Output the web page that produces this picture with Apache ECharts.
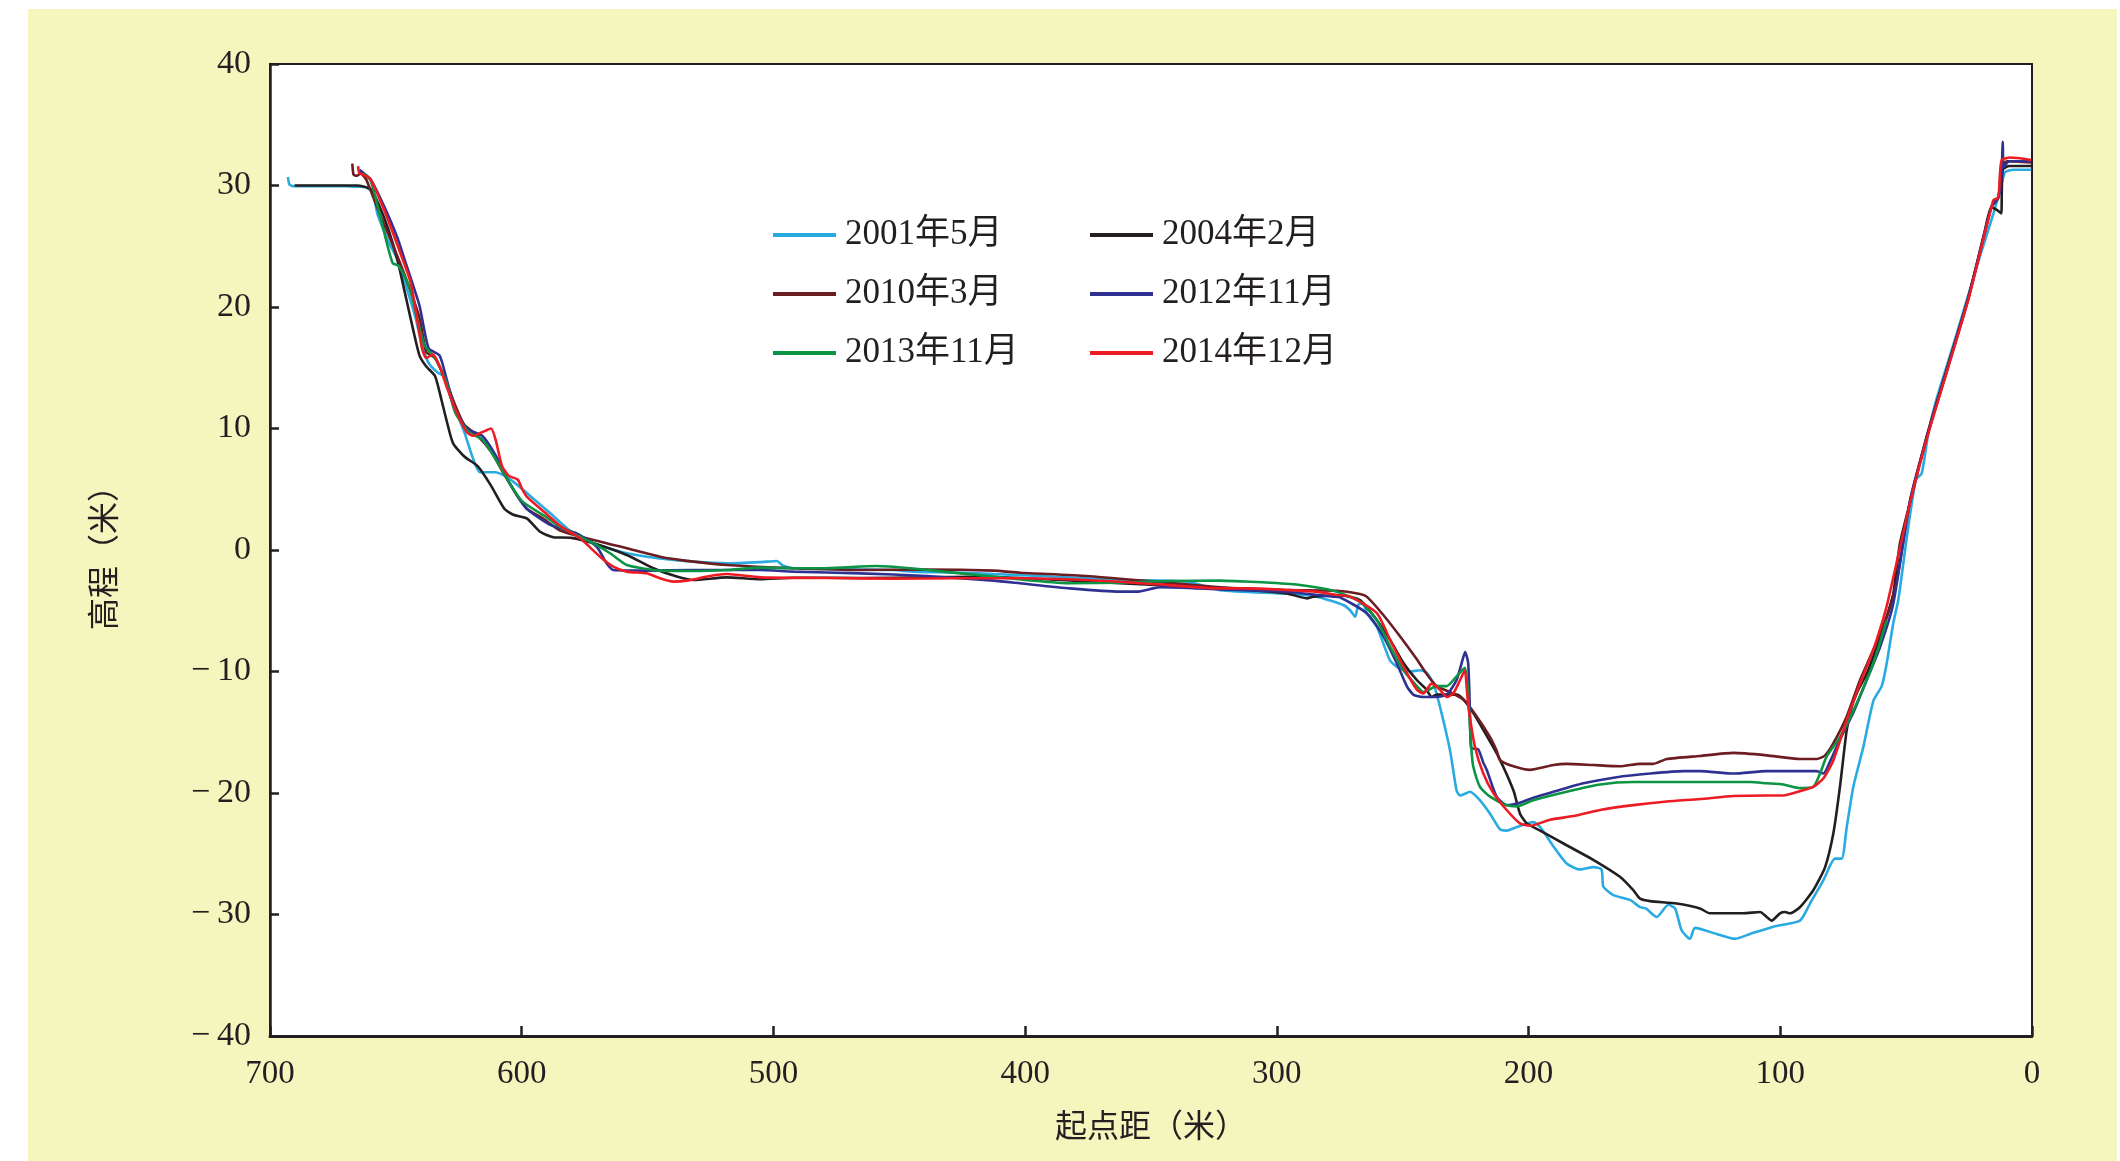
<!DOCTYPE html>
<html>
<head>
<meta charset="utf-8">
<script src="https://cdn.jsdelivr.net/npm/echarts@6.0.0/dist/echarts.min.js"></script>
<style>
  html, body { margin: 0; padding: 0; background: #fff; }
  #profileChart { width: 2120px; height: 1161px; }
</style>
</head>
<body>
<div id="profileChart"></div>
<script>
// 断面地形数据: [起点距, 高程]
var seriesNames = ['2001年5月', '2004年2月', '2010年3月', '2012年11月', '2013年11月', '2014年12月'];
var seriesColors = ['#29abe2', '#231f20', '#6b1d22', '#2e3192', '#0b9444', '#ed1c24'];
var xTicks = [700, 600, 500, 400, 300, 200, 100, 0];
var yTicks = [40, 30, 20, 10, 0, -10, -20, -30, -40];

var s2001 = [[692.9,30.7],[692.3,30.1],[691,29.95],[680,29.95],[670,29.95],[665,29.9],[661.8,29.85],[659.1,29.4],
  [657.4,27.7],[655.6,26.7],[653,25.4],[649.4,23.9],[645.9,21.7],[642.3,19.2],[639.6,16.9],[637,15.4],[633.4,14.6],
  [630.8,14.3],[628.1,12.5],[622.8,9.7],[619.3,7.5],[616.6,6.4],[610.4,6.4],[605.1,5.9],[598,4.7],[589.1,3.1],
  [580.3,1.5],[571.5,0.55],[558.3,-0.27],[545.1,-0.69],[531.8,-0.96],[518.6,-1.1],[505.3,-1.0],[498.7,-0.9],
  [496.1,-1.3],[492.1,-1.5],[478.9,-1.56],[465.6,-1.6],[452.4,-1.65],[444.4,-1.78],[425.9,-1.87],[412.6,-1.98],
  [394.1,-2.14],[362.3,-2.47],[335.8,-2.6],[322.6,-3.3],[296.1,-3.6],[284.2,-3.84],[273.6,-4.53],[271,-4.94],
  [268.9,-5.49],[267.6,-4.5],[265.6,-4.4],[264.3,-5.2],[260.3,-6.3],[257.7,-7.7],[255,-9.1],[251.7,-9.7],
  [247.1,-10.0],[243.1,-9.9],[240.5,-10.1],[237.8,-11.0],[235.2,-12.9],[231.2,-16.5],[228.6,-19.8],[227.2,-20.2],
  [224.6,-20.0],[223.3,-19.9],[219.3,-20.6],[215.3,-21.7],[211.3,-23.0],[208.7,-23.1],[204.7,-22.8],[198.1,-22.4],
  [195.4,-22.8],[190.1,-24.4],[184.9,-25.8],[179.6,-26.3],[174.3,-26.1],[171,-26.3],[170.3,-27.7],[166.3,-28.4],
  [159.7,-28.8],[155.7,-29.4],[153.4,-29.5],[149.1,-30.2],[144.5,-29.2],[141.8,-29.5],[139.2,-31.3],[135.9,-32.0],
  [133.9,-31.1],[125.3,-31.6],[118,-32.0],[112,-31.6],[102.7,-31.0],[92.2,-30.5],[88.2,-29.1],[82.9,-27.2],
  [78.3,-25.4],[75.6,-25.4],[73.6,-22.8],[71,-19.5],[67,-16.2],[63,-12.4],[59.7,-11.2],[57.7,-9.3],[55.1,-6.0],
  [53.1,-4.1],[49.5,1.4],[46.1,5.8],[43.8,6.3],[41.2,9.6],[38.1,12.3],[29.9,17.8],[22,23.3],[15.3,27.7],
  [12,30.2],[10.7,31.1],[7.4,31.3],[0.3,31.3]];

var s2004 = [[690.2,30.0],[680,30.0],[670,30.0],[665.4,30.0],[660,29.7],[656.5,28.3],[653,26.4],[649.4,23.9],
  [645.9,20.7],[643.2,18.2],[640.6,16.0],[637.9,15.1],[634.4,14.3],[631.7,12.2],[629.9,10.7],[627.3,8.8],
  [622.8,7.7],[617.5,6.9],[612.2,5.3],[606.9,3.4],[603.3,2.9],[598,2.6],[592.7,1.5],[587.4,1.05],[580.3,1.0],
  [571.5,0.55],[558.3,-0.41],[547.7,-1.5],[538.4,-2.19],[531.8,-2.47],[518.6,-2.25],[505.3,-2.41],[492.1,-2.28],
  [465,-2.3],[440,-2.25],[420,-2.2],[402,-2.3],[362.3,-2.74],[322.6,-3.15],[296.1,-3.57],[288.1,-3.98],
  [285.5,-3.84],[274.9,-3.75],[267,-4.12],[260.3,-5.76],[255,-7.4],[249.7,-9.3],[244.4,-10.7],[240.5,-11.5],
  [238.5,-12.1],[236.5,-11.9],[228.6,-11.9],[225.9,-12.3],[222,-13.4],[218,-14.8],[212,-17.0],[206,-19.8],
  [203.4,-21.7],[200.7,-22.5],[195.4,-23.1],[184.9,-24.3],[174.3,-25.5],[163.7,-26.9],[158.4,-28.0],
  [155.7,-28.7],[151.7,-28.9],[141.2,-29.1],[131.9,-29.5],[128,-29.9],[114.7,-29.9],[108,-29.8],[105.4,-30.2],
  [103.4,-30.5],[100.1,-29.9],[98.1,-29.8],[96.1,-29.9],[92.2,-29.4],[86.9,-28],[82.2,-26.1],[78.9,-23.3],
  [76.3,-19.5],[73.6,-14.8],[71.6,-12.9],[69,-11.5],[65.7,-10.2],[61.7,-8.0],[57.7,-5.5],[55.1,-3.6],
  [52.5,0.5],[48,4.3],[41.5,9.6],[33.5,15.1],[25.5,20.6],[19,26],[16.2,28.2],[14,28.0],[12.2,27.7],
  [12,29.5],[11.6,31.3],[9,31.6],[0.3,31.6]];

var s2010 = [[667.3,31.8],[666.8,30.9],[665.5,30.8],[664,31.0],[661.8,30.5],[656.5,27.7],[651.2,25.1],[645.9,22.3],
  [640.6,19.1],[637.9,16.3],[634.4,15.8],[629.9,13.8],[626.4,11.9],[622.8,10.3],[617.5,9.4],[612.2,8.1],
  [606.9,6.2],[601.6,4.4],[598,3.4],[590.9,2.5],[584.8,1.6],[571.5,0.82],[558.3,0.14],[545.1,-0.55],
  [531.8,-0.96],[518.6,-1.23],[492.1,-1.5],[465.6,-1.65],[439.1,-1.6],[412.6,-1.7],[402,-1.87],[375.5,-2.14],
  [349.1,-2.6],[322.6,-3.07],[296.1,-3.29],[276.2,-3.35],[267,-3.62],[264.3,-3.84],[257.7,-5.35],[251.1,-7.1],
  [244.4,-9.0],[240.5,-10.2],[236.5,-11.2],[231.2,-11.7],[225.9,-12.3],[220.6,-13.7],[215.3,-15.4],
  [212.7,-16.5],[211.3,-17.3],[206,-17.8],[199.4,-18.1],[190.1,-17.7],[184.9,-17.6],[174.3,-17.7],
  [163.7,-17.8],[155.7,-17.6],[150.4,-17.6],[145.1,-17.2],[131.9,-16.95],[118.6,-16.7],[105.4,-16.9],
  [92.2,-17.2],[85.5,-17.2],[82.2,-16.9],[78.9,-15.9],[73.6,-13.7],[68.3,-10.7],[63,-8.2],[57.7,-5.5],
  [53.7,-2.5],[48.4,4.1],[41.4,9.6],[33.4,15.1],[25.5,20.6],[18.9,26.1],[16,28.3],[13.6,28.9],[12.8,29.8],
  [12.3,31.5],[10,32],[0.3,31.9]];

var s2012 = [[664.5,31.3],[660,30.5],[654.7,28.3],[649.4,25.7],[645.9,23.5],[640.6,20.1],[637,16.6],[632.6,16.0],
  [629.9,14.1],[626.4,11.6],[621.9,10.0],[615.7,9.4],[610.4,7.8],[605.1,5.6],[598,3.4],[589.1,2.1],
  [584.8,1.8],[578.2,1.37],[570.2,0.27],[566.3,-1.1],[563.6,-1.65],[551.7,-1.7],[531.8,-1.65],[505.3,-1.65],
  [492.1,-1.78],[465.6,-1.92],[439.1,-2.14],[412.6,-2.52],[402,-2.74],[382.2,-3.16],[362.3,-3.43],
  [355.7,-3.43],[349.1,-3.16],[346.4,-3.07],[322.6,-3.24],[296.1,-3.43],[277.6,-3.84],[274.9,-3.9],
  [264.3,-5.2],[257.7,-7.1],[252.4,-9.3],[248.4,-11.2],[245.8,-11.9],[241.8,-12.1],[236.5,-12.1],
  [232.5,-11.9],[228.6,-10.7],[225.9,-8.8],[225.2,-8.4],[224,-9.3],[223.3,-13.2],[222.8,-16.3],[220,-16.4],
  [218,-17.5],[216.6,-18.1],[212.7,-20.3],[208.7,-21.0],[203.4,-20.8],[198.1,-20.4],[190.1,-19.9],
  [178.2,-19.2],[165,-18.7],[151.7,-18.4],[138.5,-18.2],[131.9,-18.2],[118.6,-18.4],[105.4,-18.2],
  [100.1,-18.2],[92.2,-18.2],[85.5,-18.2],[82.9,-18.4],[80.2,-17.4],[76.3,-15.6],[71,-13.4],[65.7,-10.7],
  [60.4,-8.0],[55.1,-4.4],[48.4,4.1],[41.3,9.6],[33.3,15.1],[25.4,20.6],[18.8,26.1],[16,28.3],[13.4,29],
  [12.2,30.5],[11.6,33.6],[11.3,31.5],[9,32],[0.3,32]];

var s2013 = [[663,31.0],[660,30.4],[656.5,27.7],[653,24.8],[651.2,23.6],[649,23.4],[646,22.3],[644.1,21.3],
  [638.8,16.9],[634.4,15.8],[629.9,13.8],[626.4,11.3],[621,9.7],[615.7,9.1],[610.4,7.5],[605.1,5.6],
  [599.8,4.0],[590.9,2.8],[584.8,1.9],[571.5,0.55],[564.9,-0.27],[558.3,-1.23],[545.1,-1.7],[531.8,-1.73],
  [518.6,-1.65],[505.3,-1.45],[492.1,-1.5],[478.9,-1.5],[459,-1.32],[445.7,-1.5],[432.5,-1.78],[412.6,-2.19],
  [398,-2.5],[382.2,-2.74],[362.3,-2.69],[342.4,-2.55],[322.6,-2.52],[310.7,-2.61],[302.7,-2.69],
  [290.8,-2.88],[277.6,-3.35],[267,-4.25],[260.3,-5.76],[255,-7.95],[249.7,-9.9],[244.4,-11.2],
  [241.8,-11.7],[236.5,-11.2],[232.5,-11.2],[228.6,-10.4],[225.3,-9.7],[224,-11.8],[223.3,-14.5],
  [222.6,-16.7],[222,-17.8],[219.3,-19.5],[215.3,-20.3],[208.7,-21.0],[204.7,-21.1],[198.1,-20.6],
  [184.9,-19.9],[171.6,-19.3],[158.4,-19.1],[145.1,-19.1],[131.9,-19.1],[118.6,-19.1],[112,-19.1],
  [105.4,-19.2],[98.8,-19.3],[92.2,-19.6],[86.9,-19.5],[84.2,-18.4],[81.6,-17.0],[76.3,-15.4],[69.6,-12.6],
  [63,-9.3],[57.7,-5.8]];

var s2014 = [[665,31.6],[664.5,31.0],[663,30.9],[660,30.5],[654.7,28.0],[649.4,25.1],[644.1,22.0],[639.6,16.6],
  [637.9,15.8],[635.3,16.1],[632.6,15.1],[629.9,13.5],[626.4,11.6],[621.9,9.7],[619.3,9.4],[615.7,9.7],
  [612.2,10.0],[610.4,9.1],[607.8,6.9],[605.1,6.1],[601.6,5.8],[599.8,5.0],[598,4.4],[590.9,3.1],[584.8,2.0],
  [576.8,0.96],[568.9,-0.55],[563.6,-1.37],[558.3,-1.78],[550.4,-1.92],[545.1,-2.33],[539.8,-2.6],
  [534.5,-2.52],[525.2,-2.14],[518.6,-1.98],[505.3,-2.25],[478.9,-2.3],[452.4,-2.36],[425.9,-2.33],
  [402,-2.33],[375.5,-2.47],[349.1,-2.8],[322.6,-3.16],[310.7,-3.16],[296.1,-3.29],[284.2,-3.43],
  [276.2,-3.7],[270.9,-3.84],[260.3,-5.2],[255,-7.4],[249.7,-9.6],[244.4,-11.5],[241.8,-11.8],[238.5,-11.0],
  [235.2,-11.5],[232.5,-12.1],[229.9,-11.8],[227.2,-10.7],[225.3,-9.9],[224.6,-11.3],[223.9,-12.9],
  [221.3,-16.2],[218,-18.4],[214,-20.0],[208.7,-21.4],[203.4,-22.5],[199.4,-22.7],[191.5,-22.2],
  [182.2,-21.9],[171.6,-21.4],[158.4,-21.0],[145.1,-20.7],[131.9,-20.5],[118.6,-20.25],[105.4,-20.2],
  [98.8,-20.2],[92.2,-19.85],[86.9,-19.5],[82.9,-18.8],[78.9,-17.3],[73.6,-14.0],[68.3,-11.0],[63,-8.2],
  [57.7,-4.6],[48.2,4.1],[41.2,9.6],[33.2,15.1],[25.3,20.6],[18.7,26.1],[16,28.3],[15.3,28.8],[13.4,29.0],
  [12.7,31.0],[12,32.1],[8.7,32.3],[0.3,32.1]];

var seriesData = [s2001, s2004, s2010, s2012, s2013, s2014];

var serifFont = "'Liberation Serif', 'Noto Sans CJK SC', serif";
var cjkFont = "'Noto Sans CJK SC', sans-serif";
var inkColor = '#231f20';

function fmtNum(v) {
    return v < 0 ? '\u2212\u2009' + Math.abs(v) : String(v);
}

var series = [];
for (var i = 0; i < seriesNames.length; i++) {
    series.push({
        name: seriesNames[i],
        type: 'line',
        data: seriesData[i],
        symbol: 'none',
        showSymbol: false,
        smooth: 0.2,
        lineStyle: { color: seriesColors[i], width: 2.6 },
        itemStyle: { color: seriesColors[i] },
        animation: false
    });
}

var legendBase = {
    orient: 'vertical',
    top: 212,
    itemWidth: 63,
    itemHeight: 4,
    itemGap: 23,
    icon: 'rect',
    selectedMode: false,
    textStyle: { fontSize: 35, fontFamily: serifFont, color: inkColor, lineHeight: 36, padding: [0, 0, 0, 4] }
};

var profileChart = echarts.init(document.getElementById('profileChart'));
var option = {
    backgroundColor: '#ffffff',
    animation: false,
    graphic: [{
        type: 'rect',
        left: 28,
        top: 9,
        z: -10,
        silent: true,
        shape: { width: 2089, height: 1152 },
        style: { fill: '#f5f5be' }
    }],
    grid: {
        left: 270,
        right: 88,
        top: 64,
        bottom: 125,
        containLabel: false,
        show: true,
        backgroundColor: '#ffffff',
        borderColor: inkColor,
        borderWidth: 2
    },
    legend: [
        echarts.util.merge({ left: 768, data: [seriesNames[0], seriesNames[2], seriesNames[4]] }, legendBase),
        echarts.util.merge({ left: 1085, data: [seriesNames[1], seriesNames[3], seriesNames[5]] }, legendBase)
    ],
    xAxis: {
        type: 'value',
        inverse: true,
        min: xTicks[xTicks.length - 1],
        max: xTicks[0],
        interval: 100,
        name: '起点距（米）',
        nameLocation: 'middle',
        nameGap: 73,
        nameTextStyle: { fontSize: 32, fontFamily: cjkFont, color: inkColor },
        axisLine: { show: true, onZero: false, lineStyle: { color: inkColor, width: 3 } },
        axisTick: { show: true, inside: true, length: 10, lineStyle: { color: inkColor, width: 2.5 } },
        axisLabel: { margin: 22, fontSize: 33, fontFamily: serifFont, color: inkColor },
        splitLine: { show: false }
    },
    yAxis: {
        type: 'value',
        min: yTicks[yTicks.length - 1],
        max: yTicks[0],
        interval: 10,
        name: '高程（米）',
        nameLocation: 'middle',
        nameGap: 151,
        nameRotate: 90,
        nameTextStyle: { fontSize: 32, fontFamily: cjkFont, color: inkColor },
        axisLine: { show: true, onZero: false, lineStyle: { color: inkColor, width: 2.5 } },
        axisTick: { show: true, inside: true, length: 9, lineStyle: { color: inkColor, width: 2.5 } },
        axisLabel: { margin: 19, fontSize: 34, fontFamily: serifFont, color: inkColor, formatter: fmtNum },
        splitLine: { show: false }
    },
    series: series
};
profileChart.setOption(option);
</script>
</body>
</html>
